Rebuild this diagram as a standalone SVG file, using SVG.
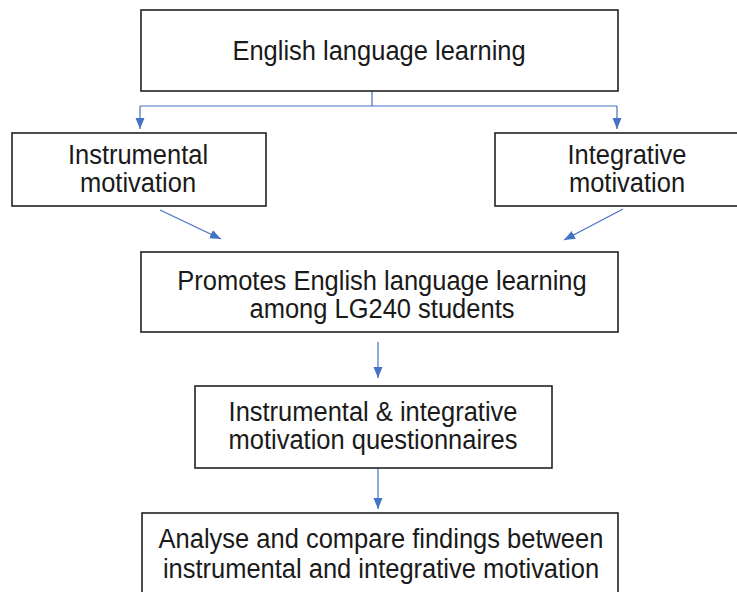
<svg xmlns="http://www.w3.org/2000/svg" width="737" height="592" viewBox="0 0 737 592">
<style>
.box{fill:#fff;stroke:#222;stroke-width:1.6}
.t{font-family:"Liberation Sans",Arial,sans-serif;font-size:25.5px;fill:#1a1a1a;text-anchor:middle}
.c{fill:none;stroke:#4472c4;stroke-width:1.2}
</style>
<defs>
<marker id="ah" markerUnits="userSpaceOnUse" markerWidth="12" markerHeight="12" viewBox="0 0 12 12" refX="11" refY="6" orient="auto">
<path d="M0,1.5 L11,6 L0,10.5 Z" fill="#4472c4"/>
</marker>
</defs>
<rect width="737" height="592" fill="#fff"/>
<g id="connectors">
<path class="c" d="M372,91 V106"/>
<path class="c" d="M140,106 H617"/>
<path class="c" d="M140,106 V129" marker-end="url(#ah)"/>
<path class="c" d="M617,106 V129" marker-end="url(#ah)"/>
<path class="c" d="M160,210 L221,239" marker-end="url(#ah)"/>
<path class="c" d="M623,209 L564,240" marker-end="url(#ah)"/>
<path class="c" d="M378,342 V378" marker-end="url(#ah)"/>
<path class="c" d="M378,468 V509" marker-end="url(#ah)"/>
</g>
<g id="n1">
<rect class="box" x="141" y="10" width="477" height="81"/>
<text class="t" transform="translate(379,60) scale(1,1.05)">English language learning</text>
</g>
<g id="n2">
<rect class="box" x="12" y="133" width="254" height="73"/>
<text class="t" transform="translate(138,164) scale(1,1.05)">Instrumental</text>
<text class="t" transform="translate(138,192) scale(1,1.05)">motivation</text>
</g>
<g id="n3">
<rect class="box" x="495" y="133" width="265" height="73"/>
<text class="t" transform="translate(627,164) scale(1,1.05)">Integrative</text>
<text class="t" transform="translate(627,192) scale(1,1.05)">motivation</text>
</g>
<g id="n4">
<rect class="box" x="141" y="252" width="477" height="80"/>
<text class="t" transform="translate(382,290) scale(1,1.05)">Promotes English language learning</text>
<text class="t" transform="translate(382,318) scale(1,1.05)">among LG240 students</text>
</g>
<g id="n5">
<rect class="box" x="195" y="386" width="357" height="82"/>
<text class="t" transform="translate(373,421) scale(1,1.05)">Instrumental &amp; integrative</text>
<text class="t" transform="translate(373,449) scale(1,1.05)">motivation questionnaires</text>
</g>
<g id="n6">
<rect class="box" x="142" y="513" width="476" height="100"/>
<text class="t" transform="translate(381,548) scale(1,1.05)">Analyse and compare findings between</text>
<text class="t" transform="translate(381,578) scale(1,1.05)">instrumental and integrative motivation</text>
</g>
</svg>
